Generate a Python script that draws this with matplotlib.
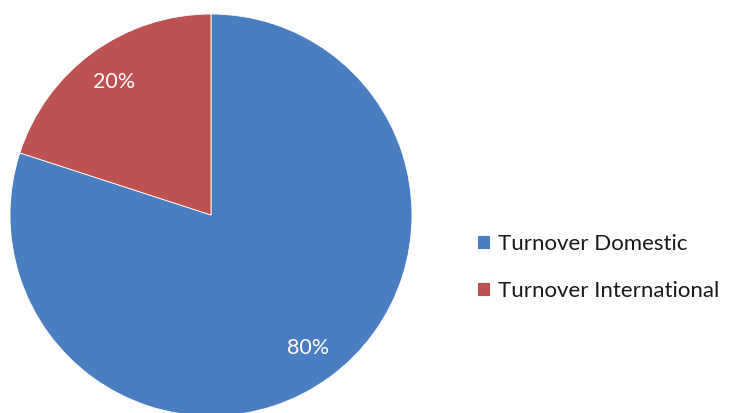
import matplotlib.pyplot as plt

# turnover split
labels = ['Turnover Domestic', 'Turnover International']
shares = [80, 20]
colors = ['#4A7EC0', '#BE5250']

plt.rcParams['font.family'] = ['Lato', 'DejaVu Sans']

fig = plt.figure(figsize=(7.29, 4.13), dpi=100)
W, H = 729, 413
# pie centred at (211, 215) px, radius 201 px
cx, cy, r = 211, 215, 201
ax = fig.add_axes([(cx - r) / W, (H - cy - r) / H, 2 * r / W, 2 * r / H])

wedges, texts, autotexts = ax.pie(
    shares, colors=colors, startangle=90, counterclock=False,
    autopct='%d%%', pctdistance=0.82, radius=1,
    wedgeprops=dict(edgecolor='white', linewidth=0.6),
    textprops=dict(color='white', fontsize=15.5))
ax.set_xlim(-1, 1)
ax.set_ylim(-1, 1)
ax.set_aspect('equal')
ax.axis('off')

fig.legend(wedges, labels, loc='center left',
           bbox_to_anchor=(477 / W, 1 - 267.5 / H), frameon=False,
           borderpad=0, borderaxespad=0,
           fontsize=16, handlelength=0.6, handleheight=0.6,
           handletextpad=0.35, labelspacing=1.2, labelcolor='#1a1a1a')

fig.savefig('out.png', dpi=100)
